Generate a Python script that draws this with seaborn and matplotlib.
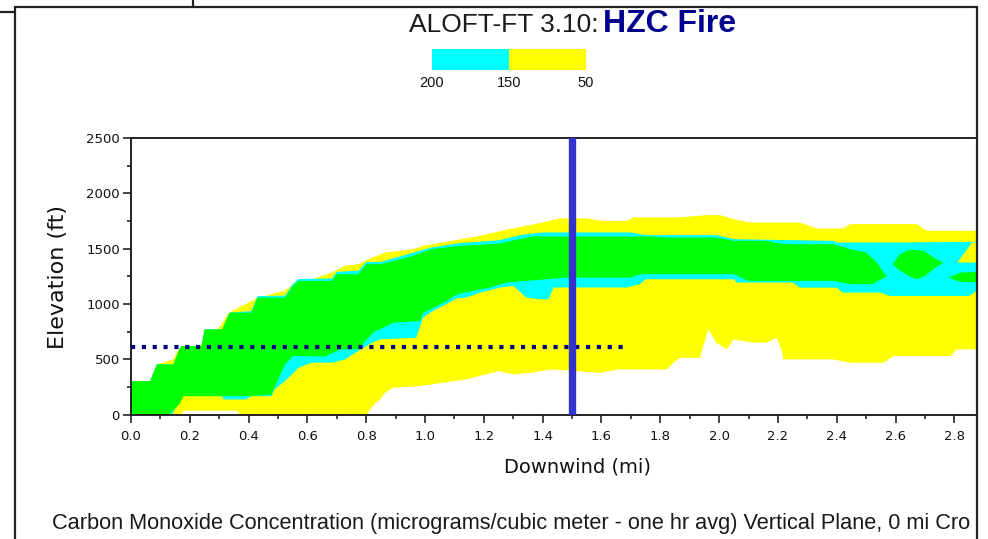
import numpy as np
import matplotlib
matplotlib.use("Agg")
import matplotlib.pyplot as plt
import seaborn as sns
from matplotlib.lines import Line2D
from matplotlib.ticker import MultipleLocator

# ---------------- data ----------------
x_tick_mi = [0.0, 0.2, 0.4, 0.6, 0.8, 1.0, 1.2, 1.4, 1.6, 1.8, 2.0, 2.2, 2.4, 2.6, 2.8]
y_tick_ft = [0, 500, 1000, 1500, 2000, 2500]
legend_labels = ["200", "150", "50"]
legend_colors = ["#00FFFF", "#FFFF00"]

# 50 level (yellow) envelope
yellow_top_mi = [0.0, 0.065, 0.088, 0.144, 0.161, 0.232, 0.30, 0.333, 0.433, 0.52, 0.57, 0.615,
                 0.683, 0.728, 0.773, 0.819, 0.864, 0.96, 0.994, 1.09, 1.187, 1.26, 1.40, 1.46,
                 1.55, 1.60, 1.686, 1.709, 1.867, 1.958, 2.003, 2.049, 2.105, 2.275, 2.332,
                 2.423, 2.445, 2.672, 2.706, 2.877]
yellow_top_ft = [302, 302, 453, 498, 589, 619, 785, 921, 1057, 1117, 1208, 1223,
                 1283, 1344, 1359, 1419, 1464, 1495, 1525, 1570, 1615, 1661, 1736, 1773,
                 1773, 1751, 1751, 1782, 1782, 1803, 1803, 1766, 1736, 1736, 1682,
                 1682, 1721, 1721, 1661, 1661]
yellow_bot_mi = [0.0, 0.17, 0.18, 0.36, 0.37, 0.80, 0.83, 0.847, 0.864, 0.89, 0.98, 1.14, 1.25,
                 1.30, 1.36, 1.43, 1.60, 1.652, 1.822, 1.845, 1.867, 1.935, 1.963, 1.99, 2.026,
                 2.049, 2.117, 2.162, 2.196, 2.213, 2.218, 2.388, 2.445, 2.559, 2.593, 2.786,
                 2.808, 2.877]
yellow_bot_ft = [0, 0, 35, 35, 0, 0, 100, 136, 196, 241, 257, 317, 393,
                 362, 377, 408, 377, 407, 407, 468, 513, 513, 770, 649, 589,
                 679, 649, 649, 694, 574, 498, 498, 468, 468, 528, 528,
                 589, 589]
yellow_wedge_mi = [2.81, 2.86, 2.877, 2.877]
yellow_wedge_ft = [1374, 1555, 1555, 1374]

# 150 level (cyan) envelope
cyan_top_mi = [0.0, 0.065, 0.088, 0.144, 0.16, 0.17, 0.24, 0.25, 0.31, 0.335, 0.41, 0.43,
               0.524, 0.55, 0.57, 0.683, 0.70, 0.773, 0.80, 0.85, 0.96, 1.02, 1.12, 1.25,
               1.33, 1.40, 1.70, 1.75, 1.99, 2.05, 2.39, 2.40, 2.60, 2.877]
cyan_top_ft = [302, 302, 453, 453, 560, 619, 619, 770, 770, 921, 935, 1070,
               1075, 1180, 1225, 1230, 1290, 1300, 1380, 1380, 1464, 1510, 1550, 1575,
               1625, 1646, 1646, 1622, 1622, 1585, 1570, 1555, 1555, 1561]
cyan_bot_mi = [0.0, 0.14, 0.167, 0.178, 0.31, 0.315, 0.39, 0.41, 0.478, 0.488, 0.524, 0.57,
               0.615, 0.683, 0.728, 0.773, 0.819, 0.847, 0.97, 0.994, 1.03, 1.074, 1.108,
               1.14, 1.187, 1.255, 1.30, 1.345, 1.39, 1.42, 1.436, 1.685, 1.73, 1.75, 2.05,
               2.06, 2.25, 2.275, 2.40, 2.42, 2.55, 2.58, 2.85, 2.877]
cyan_bot_ft = [0, 0, 150, 166, 166, 136, 136, 166, 166, 226, 302, 423,
               468, 468, 498, 574, 649, 679, 694, 880, 940, 1000, 1050,
               1057, 1102, 1148, 1163, 1057, 1042, 1042, 1148, 1148, 1178, 1223, 1223,
               1193, 1193, 1147, 1147, 1102, 1102, 1072, 1072, 1120]

# 200 level (green) core
green_top_mi = [0.0, 0.065, 0.088, 0.144, 0.16, 0.17, 0.24, 0.25, 0.31, 0.335, 0.41, 0.43,
                0.524, 0.55, 0.57, 0.683, 0.70, 0.773, 0.80, 0.85, 0.96, 1.02, 1.12, 1.25,
                1.31, 1.37, 1.765, 1.82, 1.99, 2.05, 2.16, 2.218, 2.388, 2.445, 2.50, 2.536,
                2.57]
green_top_ft = [302, 302, 453, 453, 560, 619, 619, 770, 770, 921, 921, 1057,
                1057, 1163, 1208, 1208, 1268, 1268, 1359, 1359, 1434, 1495, 1525, 1545,
                1580, 1610, 1610, 1600, 1600, 1570, 1570, 1540, 1540, 1495, 1464, 1374,
                1250]
green_bot_mi = [0.0, 0.13, 0.167, 0.178, 0.41, 0.478, 0.50, 0.524, 0.55, 0.66, 0.71, 0.773,
                0.796, 0.83, 0.847, 0.892, 0.983, 0.994, 1.03, 1.074, 1.108, 1.22, 1.277,
                1.48, 1.70, 1.73, 2.05, 2.10, 2.39, 2.445, 2.52, 2.57]
green_bot_ft = [0, 0, 100, 166, 166, 181, 317, 453, 529, 524, 589, 589,
                664, 755, 770, 830, 845, 921, 966, 1027, 1087, 1148, 1193,
                1238, 1238, 1268, 1268, 1208, 1208, 1178, 1178, 1250]
island_mi = [2.59, 2.615, 2.645, 2.672, 2.70, 2.728, 2.763]
island_top_ft = [1359, 1449, 1488, 1488, 1475, 1420, 1374]
island_bot_ft = [1359, 1300, 1253, 1223, 1250, 1313, 1374]
sliver_mi = [2.78, 2.82, 2.877]
sliver_top_ft = [1238, 1283, 1290]
sliver_bot_ft = [1238, 1200, 1195]

# reference lines
ref_elev_mi = [0.0, 1.68]
ref_elev_ft = [610, 610]
marker_mi = 1.5

# ---------------- figure ----------------
W, H = 988, 539
sns.set_style("ticks")
plt.rcParams["font.family"] = ["DejaVu Sans"]
fig = plt.figure(figsize=(W / 100, H / 100), dpi=100)
fig.patch.set_facecolor("white")


def fx(px):
    return px / W


def fy(py):
    return 1 - py / H


ax = fig.add_axes([fx(131), fy(414.5), fx(977) - fx(131), fy(138) - fy(414.5)])
ax.set_facecolor("white")


def band(xt, yt, xb, yb, color):
    xs = np.concatenate([np.asarray(xt, float), np.asarray(xb, float)[::-1]])
    ys = np.concatenate([np.asarray(yt, float), np.asarray(yb, float)[::-1]])
    ax.fill(xs, ys, color=color, lw=0, zorder=1)


band(yellow_top_mi, yellow_top_ft, yellow_bot_mi, yellow_bot_ft, "#FFFF00")
band(cyan_top_mi, cyan_top_ft, cyan_bot_mi, cyan_bot_ft, "#00FFFF")
band(green_top_mi, green_top_ft, green_bot_mi, green_bot_ft, "#00FF00")
band(island_mi, island_top_ft, island_mi, island_bot_ft, "#00FF00")
band(sliver_mi, sliver_top_ft, sliver_mi, sliver_bot_ft, "#00FF00")
ax.fill(yellow_wedge_mi, yellow_wedge_ft, color="#FFFF00", lw=0, zorder=1)

sns.lineplot(x=ref_elev_mi, y=ref_elev_ft, ax=ax, color="#000080", lw=3.0,
             linestyle=(0, (1, 1.6)), zorder=3)
ax.axvline(marker_mi, color="#3333CC", lw=5.3, zorder=4)

ax.set_xlim(0, 2.877)
ax.set_ylim(0, 2500)
ax.set_xticks(x_tick_mi)
ax.set_xticklabels([f"{v:.1f}" for v in x_tick_mi])
ax.set_yticks(y_tick_ft)
ax.set_yticklabels([str(v) for v in y_tick_ft])
ax.xaxis.set_minor_locator(MultipleLocator(0.1))
ax.yaxis.set_minor_locator(MultipleLocator(250))
ax.tick_params(which="major", direction="out", length=5.5, width=1.1, color="#111",
               labelsize=9.5, labelcolor="#111")
ax.tick_params(which="minor", direction="out", length=3, width=1.1, color="#111")
ax.tick_params(axis="x", pad=6)
ax.tick_params(axis="y", pad=2.5)
for s in ax.spines.values():
    s.set_visible(True)
    s.set_linewidth(1.4)
    s.set_color("#222")
ax.set_xlabel("")
ax.set_ylabel("")

# axis titles
fig.text(fx(577), fy(467), "Downwind (mi)", ha="center", va="center", fontsize=14,
         color="#111")
fig.text(fx(58), fy(277), "Elevation (ft)", ha="center", va="center", fontsize=16,
         rotation=90, color="#111")

# title
fig.text(fx(598), fy(31.5), "ALOFT-FT 3.10:", ha="right", va="baseline", fontsize=19,
         family="Liberation Sans", color="#1a1a1a")
fig.text(fx(603), fy(32), "HZC Fire", ha="left", va="baseline", fontsize=23,
         family="Liberation Sans", fontweight="bold", color="#00008F")

# legend bar
lax = fig.add_axes([fx(431.5), fy(70), fx(586) - fx(431.5), fy(48.5) - fy(70)])
lax.bar([0, 1], [1, 1], width=1, align="edge", color=legend_colors, lw=0)
lax.set_xlim(0, 2)
lax.set_ylim(0, 1)
lax.axis("off")
for i, lab in enumerate(legend_labels):
    lax.text(i, -0.62, lab, ha="center", va="center", fontsize=10.5,
             family="Liberation Sans", color="#111", clip_on=False)

# caption (as visible in the window, cut by the frame)
fig.text(fx(52), fy(529),
         "Carbon Monoxide Concentration (micrograms/cubic meter - one hr avg) Vertical Plane, 0 mi Cro",
         ha="left", va="baseline", fontsize=15.7, family="Liberation Sans", color="#1a1a1a")

# window frame lines
frame_kw = dict(color="#222", lw=1.6, transform=fig.transFigure)
fig.add_artist(Line2D([fx(15), fx(977)], [fy(7.3), fy(7.3)], **frame_kw))
fig.add_artist(Line2D([fx(15), fx(15)], [fy(7.3), fy(539)], **frame_kw))
fig.add_artist(Line2D([fx(977), fx(977)], [fy(7.3), fy(539)], **frame_kw))
fig.add_artist(Line2D([fx(0), fx(15)], [fy(12.3), fy(12.3)], **frame_kw))
fig.add_artist(Line2D([fx(193), fx(193)], [fy(0), fy(7.3)], **frame_kw))

fig.savefig("out.png", dpi=100, facecolor="white")
